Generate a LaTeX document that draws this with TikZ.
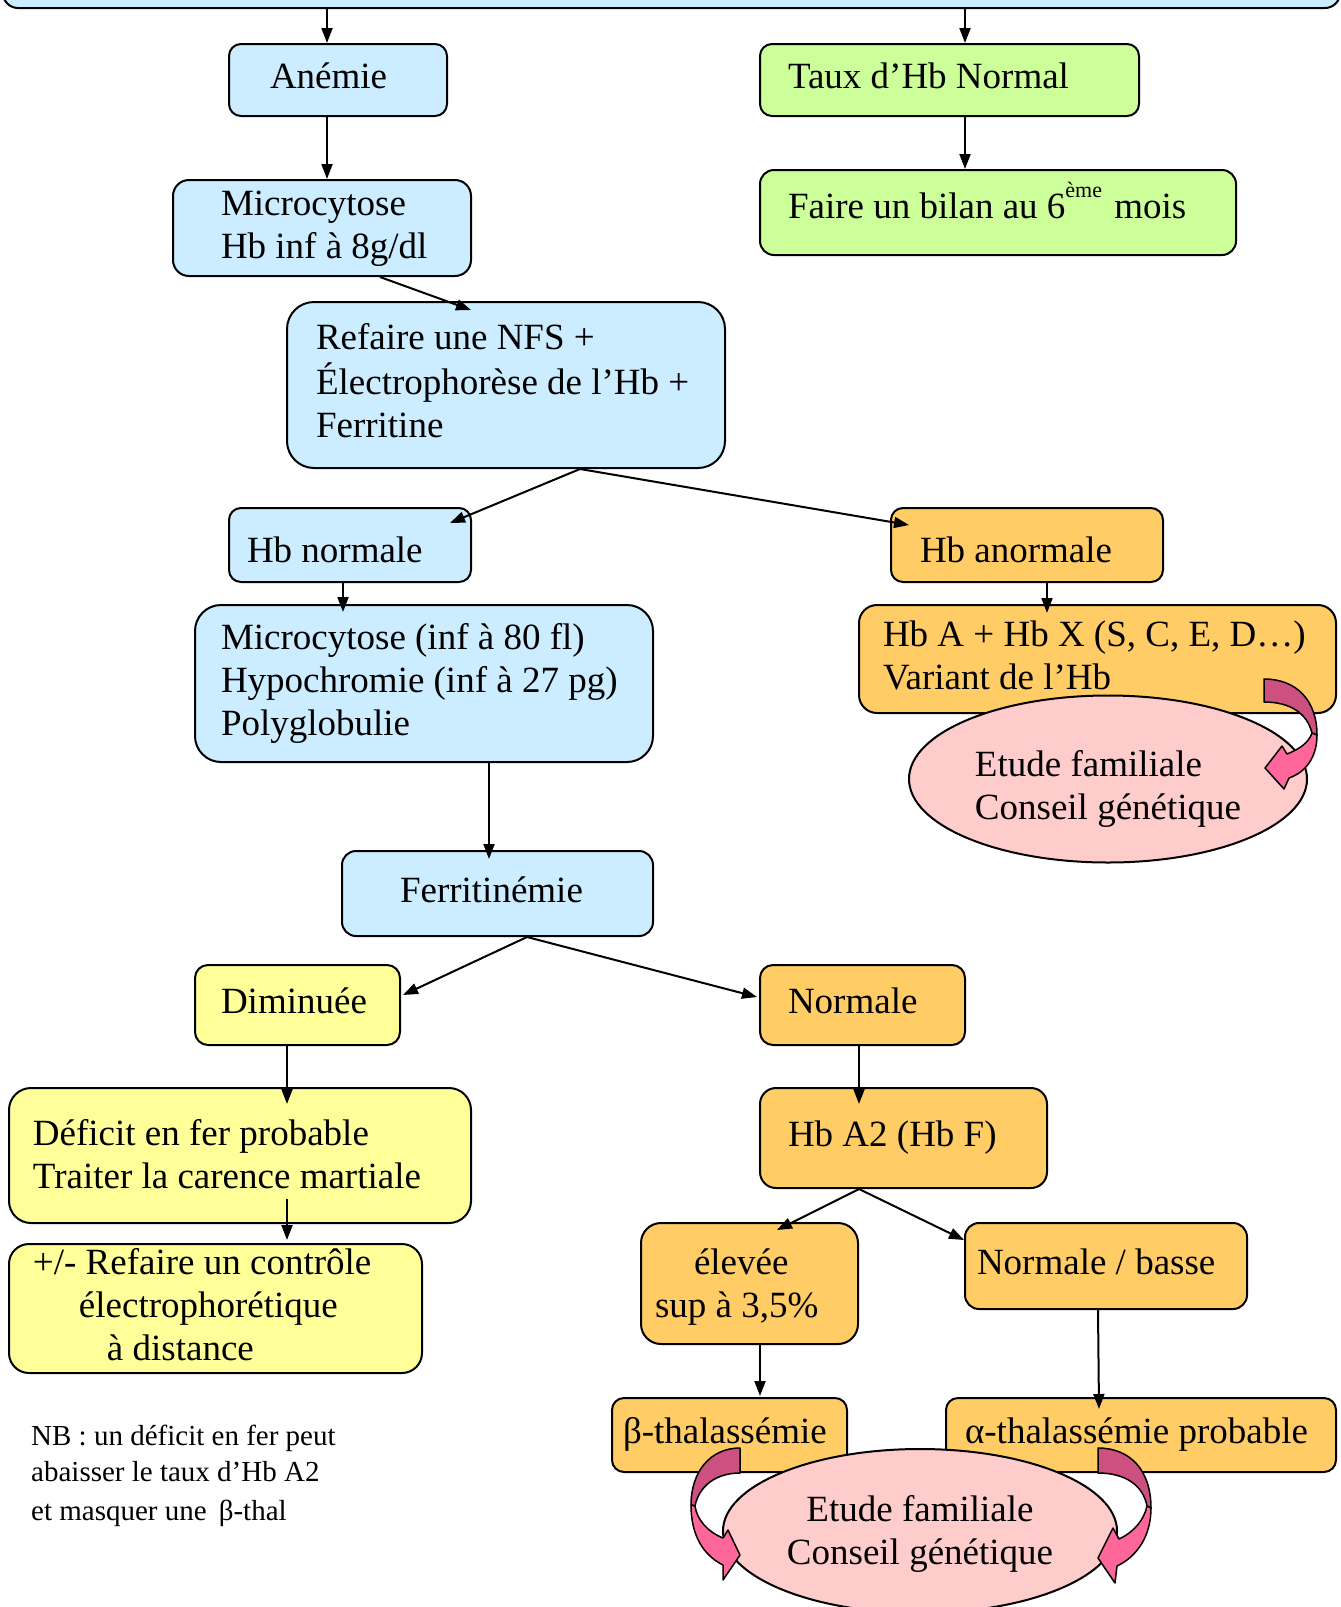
\documentclass[tikz,border=0pt]{standalone}
\usepackage{fontspec}
\setmainfont{Liberation Serif}
\usetikzlibrary{shapes.geometric,arrows.meta,calc}
\definecolor{cblue}{HTML}{CCECFF}
\definecolor{cgreen}{HTML}{CCFF99}
\definecolor{corange}{HTML}{FFCC66}
\definecolor{cyellow}{HTML}{FFFF99}
\definecolor{cpink}{HTML}{FFCCCC}
\definecolor{cdark}{HTML}{CC5080}
\definecolor{cbright}{HTML}{FF6699}
\newcommand\boxtext[3]{\makebox[#1pt][l]{\hspace{#2pt}\begin{tabular}{@{}l@{}}#3\end{tabular}}}
\newcommand\boxtextr[4]{\raisebox{#4pt}[0pt][0pt]{\boxtext{#1}{#2}{#3}}}
\newcommand\supx[1]{\raisebox{21pt}{\fontsize{22}{22}\selectfont #1}\hspace{3pt}}
\tikzset{
  bx/.style={draw, line width=2pt, inner sep=0pt, anchor=north west, font=\fontsize{37}{43}\selectfont},
  ell/.style={draw, ellipse, line width=2pt, inner sep=0pt, fill=cpink, font=\fontsize{37}{43}\selectfont},
  arr/.style={line width=2pt, -{Triangle[length=15pt,width=11pt]}},
  curv/.style={draw, line width=1.5pt, line join=round},
}
\begin{document}
\begin{tikzpicture}[x=1pt,y=-1pt]
\useasboundingbox (0,0) rectangle (1341,1607);
\clip (0,0) rectangle (1341,1607);
% boxes
\node[bx, anchor=south west, fill=cblue, rounded corners=15pt, minimum width=1337pt, minimum height=80pt] (top) at (2,9) {};
\node[bx, fill=cblue, rounded corners=12pt, minimum width=218pt, minimum height=72pt] (anemie) at (228,43) {\boxtext{218}{41}{Anémie}};
\node[bx, fill=cgreen, rounded corners=12pt, minimum width=379pt, minimum height=72pt] (taux) at (759,43) {\boxtext{379}{28}{Taux d’Hb Normal}};
\node[bx, fill=cgreen, rounded corners=14pt, minimum width=476pt, minimum height=85pt] (faire) at (759,169) {\boxtextr{476}{28}{Faire un bilan au 6\supx{ème} mois}{-1}};
\node[bx, fill=cblue, rounded corners=16pt, minimum width=298pt, minimum height=96pt] (micro1) at (172,179) {\boxtext{298}{48}{Microcytose\\Hb inf à 8g/dl}};
\node[bx, fill=cblue, rounded corners=27pt, minimum width=438pt, minimum height=166pt] (refaire) at (286,301) {\boxtext{438}{29}{Refaire une NFS +\\Électrophorèse de l’Hb +\\Ferritine}};
\node[bx, fill=cblue, rounded corners=12pt, minimum width=242pt, minimum height=74pt] (hbn) at (228,507) {\boxtextr{242}{18}{Hb normale}{-15.5}};
\node[bx, fill=corange, rounded corners=12pt, minimum width=272pt, minimum height=74pt] (hba) at (890,507) {\boxtextr{272}{29}{Hb anormale}{-15.5}};
\node[bx, fill=cblue, rounded corners=26pt, minimum width=458pt, minimum height=157pt] (micro2) at (194,604) {\boxtext{458}{26}{Microcytose (inf à 80 fl)\\Hypochromie (inf à 27 pg)\\Polyglobulie}};
\node[bx, fill=corange, rounded corners=18pt, minimum width=477pt, minimum height=108pt] (hbax) at (858,604) {\boxtext{477}{24}{Hb A + Hb X (S, C, E, D…)\\Variant de l’Hb}};
\node[bx, fill=cblue, rounded corners=14pt, minimum width=311pt, minimum height=85pt] (ferr) at (341,850) {\boxtext{311}{58}{Ferritinémie}};
\node[bx, fill=cyellow, rounded corners=13pt, minimum width=205pt, minimum height=80pt] (dim) at (194,964) {\boxtext{205}{26}{Diminuée}};
\node[bx, fill=corange, rounded corners=13pt, minimum width=205pt, minimum height=80pt] (norm) at (759,964) {\boxtext{205}{28}{Normale}};
\node[bx, fill=cyellow, rounded corners=22pt, minimum width=462pt, minimum height=135pt] (deficit) at (8,1087) {\boxtextr{462}{24}{Déficit en fer probable\\Traiter la carence martiale}{-9}};
\node[bx, fill=cyellow, rounded corners=20pt, minimum width=413pt, minimum height=123pt] (pm) at (8,1243) {\boxtext{413}{24}{+/- Refaire un contrôle\\\hspace{46pt}électrophorétique\\\hspace{74pt}à distance}};
\node[bx, fill=corange, rounded corners=16pt, minimum width=287pt, minimum height=100pt] (hba2) at (759,1087) {\boxtext{287}{28}{Hb A2 (Hb F)}};
\node[bx, fill=corange, rounded corners=20pt, minimum width=217pt, minimum height=121pt] (elev) at (640,1222) {\boxtextr{217}{14}{\hspace{39pt}élevée\\sup à 3,5\%}{-10}};
\node[bx, fill=corange, rounded corners=14pt, minimum width=282pt, minimum height=86pt] (nbasse) at (964,1222) {\boxtext{282}{12}{Normale / basse}};
\node[bx, fill=corange, rounded corners=12pt, minimum width=235pt, minimum height=74pt] (beta) at (611,1397) {\boxtext{235}{11}{β-thalassémie}};
\node[bx, fill=corange, rounded corners=12pt, minimum width=390pt, minimum height=74pt] (alpha) at (945,1397) {\boxtext{390}{19}{α-thalassémie probable}};
% ellipses
\node[ell, minimum width=398pt, minimum height=167pt] (ell1) at (1108,779) {\raisebox{-16.5pt}[0pt][0pt]{\begin{tabular}{@{}l@{}}Etude familiale\\Conseil génétique\end{tabular}}};
\node[ell, minimum width=394pt, minimum height=164pt] (ell2) at (920,1531) {\raisebox{-10pt}[0pt][0pt]{\begin{tabular}{@{}c@{}}Etude familiale\\Conseil génétique\end{tabular}}};
% connectors
\draw[arr] ($(anemie.north |- top.south)+(-11,0)$) -- ($(anemie.north)+(-11,0)$);
\draw[arr] ($(taux.north |- top.south)+(15.5,0)$) -- ($(taux.north)+(15.5,0)$);
\draw[arr] ($(taux.south)+(15.5,0)$) -- ($(taux.south |- faire.north)+(15.5,0)$);
\draw[arr] ($(anemie.south)+(-11,0)$) -- ($(anemie.south |- micro1.north)+(-11,0)$);
\draw[arr] ($(micro1.south)+(58,0)$) -- ($(refaire.north)+(-35,9)$);
\draw[arr] ($(refaire.south)+(74,0)$) -- ($(hbn.north east)+(-22,16)$);
\draw[arr] ($(refaire.south)+(74,0)$) -- ($(hba.north west)+(19,18)$);
\draw[arr] ($(hbn.south)+(-7,0)$) -- ($(hbn.south |- micro2.north)+(-7,8)$);
\draw[arr] ($(hba.south)+(20,0)$) -- ($(hba.south |- hbax.north)+(20,9)$);
\draw[arr] ($(micro2.south)+(65,0)$) -- ($(micro2.south |- ferr.north)+(65,9)$);
\draw[arr] ($(ferr.south)+(29.5,0)$) -- ($(dim.north east)+(2,31)$);
\draw[arr] ($(ferr.south)+(29.5,0)$) -- ($(norm.north west)+(-2,33)$);
\draw[arr] ($(dim.south)+(-10.5,0)$) -- ($(dim.south |- deficit.north)+(-10.5,17)$);
\draw[arr] ($(deficit.south)+(47,-25)$) -- ($(deficit.south |- pm.north)+(47,-3)$);
\draw[arr] ($(norm.south)+(-3.5,0)$) -- ($(norm.south |- hba2.north)+(-3.5,17)$);
\draw[arr] ($(hba2.south)+(-44.5,0)$) -- ($(elev.north)+(27.5,8)$);
\draw[arr] ($(hba2.south)+(-44.5,0)$) -- ($(nbasse.north west)+(0,18)$);
\draw[arr] ($(elev.south)+(10.5,0)$) -- ($(elev.south |- beta.north)+(10.5,-1)$);
\draw[arr] ($(nbasse.south)+(-8,0)$) -- ($(nbasse.south |- alpha.north)+(-7,12)$);
% curved arrows
\path[curv, fill=cdark] (1264,679) .. controls (1296,679) and (1317,700) .. (1317,735) -- (1312,733) .. controls (1307,713) and (1290,702) .. (1264,702) -- cycle;
\path[curv, fill=cbright] (1317,735) .. controls (1317,757) and (1306,772) .. (1289,778) -- (1284,789) -- (1265,768) -- (1282,746) -- (1287,754) .. controls (1300,749) and (1309,742) .. (1312,733) -- cycle;
\path[curv, fill=cdark] (1098,1448) .. controls (1130,1448) and (1151,1470) .. (1151,1508) -- (1147,1506) .. controls (1143,1485) and (1125,1473) .. (1098,1473) -- cycle;
\path[curv, fill=cbright] (1151,1508) .. controls (1151,1535) and (1138,1556) .. (1117,1566) -- (1115,1583) -- (1098,1558) -- (1113,1528) -- (1119,1539) .. controls (1134,1532) and (1144,1520) .. (1147,1506) -- cycle;
\path[curv, fill=cdark] (740,1448) .. controls (710,1448) and (691,1472) .. (691,1505) -- (695,1506) .. controls (699,1486) and (716,1473) .. (740,1473) -- cycle;
\path[curv, fill=cbright] (691,1505) .. controls (691,1535) and (703,1555) .. (723,1565) -- (723,1580) -- (740,1555) -- (728,1530) -- (723,1538) .. controls (708,1532) and (697,1520) .. (695,1506) -- cycle;
% note
\node[anchor=base west, inner sep=0pt, font=\fontsize{29}{36}\selectfont] (nb) at (31,1445) {\begin{tabular}[t]{@{}l@{}}NB : un déficit en fer peut\\abaisser le taux d’Hb A2\\[3pt]et masquer une \,β-thal\end{tabular}};
\end{tikzpicture}
\end{document}
